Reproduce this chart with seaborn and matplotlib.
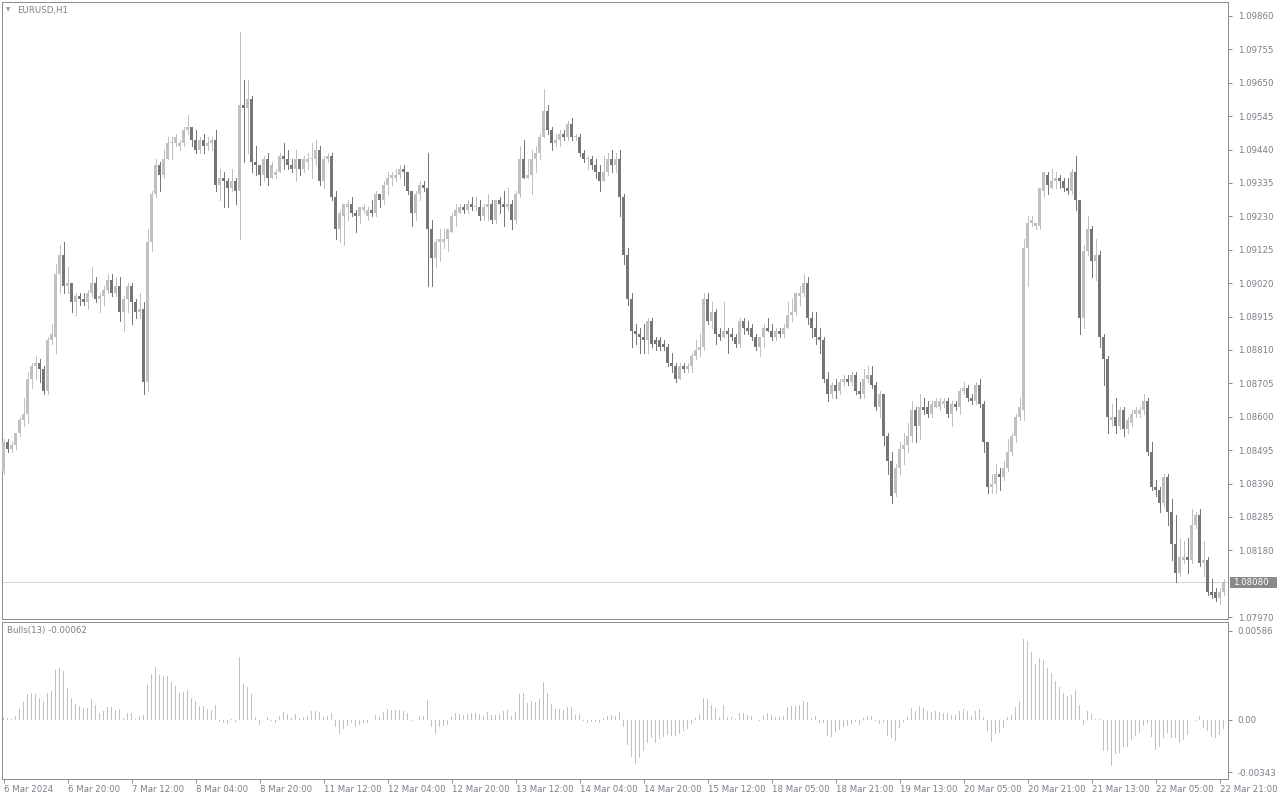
import numpy as np
import pandas as pd
import matplotlib
matplotlib.use("Agg")
import matplotlib.pyplot as plt
from matplotlib.patches import Rectangle
import seaborn as sns

# ---------------- data (EURUSD H1) ----------------
open_ = [
1.0843,1.0852,1.0850,1.0851,1.0855,1.0859,1.0861,1.0872,1.0876,1.0877,
1.0875,1.0868,1.0884,1.0885,1.0905,1.0911,1.0901,1.0902,1.0896,1.0898,
1.0897,1.0896,1.0899,1.0902,1.0897,1.0898,1.0900,1.0903,1.0899,1.0901,
1.0893,1.0897,1.0901,1.0896,1.0893,1.0894,1.0871,1.0915,1.0930,1.0939,
1.0936,1.0941,1.0946,1.0946,1.0945,1.0946,1.0950,1.0951,1.0947,1.0944,
1.0947,1.0945,1.0946,1.0947,1.0933,1.0935,1.0934,1.0932,1.0934,1.0931,
1.0958,1.0957,1.0960,1.0940,1.0939,1.0936,1.0941,1.0935,1.0936,1.0937,
1.0942,1.0941,1.0939,1.0938,1.0941,1.0938,1.0940,1.0941,1.0941,1.0944,
1.0934,1.0941,1.0942,1.0929,1.0919,1.0923,1.0926,1.0927,1.0924,1.0923,
1.0925,1.0923,1.0925,1.0924,1.0930,1.0928,1.0933,1.0935,1.0935,1.0936,
1.0938,1.0937,1.0931,1.0924,1.0930,1.0933,1.0932,1.0919,1.0910,1.0915,
1.0915,1.0916,1.0918,1.0923,1.0924,1.0926,1.0925,1.0927,1.0926,1.0926,
1.0923,1.0926,1.0927,1.0922,1.0928,1.0927,1.0926,1.0927,1.0922,1.0930,
1.0941,1.0935,1.0936,1.0941,1.0943,1.0948,1.0956,1.0950,1.0946,1.0947,
1.0949,1.0948,1.0952,1.0948,1.0948,1.0943,1.0941,1.0941,1.0939,1.0937,
1.0934,1.0937,1.0941,1.0939,1.0941,1.0929,1.0911,1.0897,1.0887,1.0886,
1.0885,1.0884,1.0890,1.0884,1.0884,1.0883,1.0882,1.0877,1.0876,1.0872,
1.0876,1.0875,1.0876,1.0879,1.0881,1.0882,1.0897,1.0890,1.0893,1.0886,
1.0885,1.0887,1.0886,1.0885,1.0883,1.0890,1.0888,1.0888,1.0885,1.0882,
1.0885,1.0888,1.0887,1.0885,1.0887,1.0886,1.0888,1.0892,1.0893,1.0898,
1.0899,1.0902,1.0891,1.0888,1.0885,1.0884,1.0872,1.0867,1.0870,1.0868,
1.0871,1.0872,1.0871,1.0873,1.0868,1.0867,1.0872,1.0873,1.0870,1.0863,
1.0867,1.0854,1.0846,1.0836,1.0844,1.0850,1.0851,1.0854,1.0862,1.0857,
1.0863,1.0863,1.0861,1.0863,1.0863,1.0864,1.0865,1.0861,1.0864,1.0863,
1.0868,1.0869,1.0866,1.0865,1.0870,1.0864,1.0852,1.0838,1.0839,1.0842,
1.0841,1.0844,1.0849,1.0854,1.0860,1.0862,1.0913,1.0921,1.0920,1.0920,
1.0931,1.0936,1.0932,1.0934,1.0935,1.0934,1.0932,1.0931,1.0937,1.0928,
1.0891,1.0912,1.0919,1.0909,1.0911,1.0885,1.0878,1.0859,1.0860,1.0857,
1.0862,1.0856,1.0858,1.0861,1.0861,1.0862,1.0865,1.0849,1.0838,1.0837,
1.0833,1.0841,1.0830,1.0820,1.0811,1.0815,1.0816,1.0815,1.0826,1.0829,
1.0814,1.0815,1.0805,1.0805,1.0803,1.0805]

high = [
1.0853,1.0853,1.0852,1.0855,1.0860,1.0866,1.0874,1.0877,1.0879,1.0878,
1.0876,1.0885,1.0889,1.0908,1.0914,1.0915,1.0907,1.0902,1.0899,1.0899,
1.0899,1.0900,1.0907,1.0904,1.0899,1.0901,1.0905,1.0905,1.0904,1.0904,
1.0898,1.0902,1.0902,1.0897,1.0899,1.0896,1.0919,1.0931,1.0941,1.0940,
1.0944,1.0948,1.0948,1.0949,1.0947,1.0951,1.0955,1.0951,1.0950,1.0948,
1.0949,1.0948,1.0948,1.0950,1.0938,1.0937,1.0935,1.0938,1.0935,1.0981,
1.0966,1.0966,1.0961,1.0945,1.0939,1.0942,1.0943,1.0940,1.0938,1.0943,
1.0946,1.0944,1.0941,1.0944,1.0941,1.0942,1.0943,1.0946,1.0947,1.0945,
1.0942,1.0943,1.0943,1.0931,1.0925,1.0927,1.0928,1.0929,1.0925,1.0926,
1.0927,1.0926,1.0928,1.0931,1.0930,1.0934,1.0937,1.0937,1.0938,1.0939,
1.0939,1.0937,1.0931,1.0931,1.0934,1.0934,1.0943,1.0922,1.0916,1.0919,
1.0919,1.0919,1.0924,1.0927,1.0927,1.0927,1.0928,1.0929,1.0929,1.0928,
1.0927,1.0930,1.0928,1.0928,1.0929,1.0931,1.0932,1.0928,1.0931,1.0945,
1.0947,1.0941,1.0944,1.0945,1.0949,1.0963,1.0958,1.0951,1.0949,1.0950,
1.0950,1.0953,1.0954,1.0949,1.0949,1.0944,1.0942,1.0942,1.0941,1.0939,
1.0942,1.0943,1.0944,1.0943,1.0944,1.0930,1.0913,1.0899,1.0889,1.0888,
1.0889,1.0891,1.0891,1.0885,1.0885,1.0884,1.0883,1.0880,1.0877,1.0877,
1.0877,1.0877,1.0880,1.0884,1.0886,1.0899,1.0899,1.0896,1.0894,1.0888,
1.0896,1.0888,1.0888,1.0886,1.0891,1.0891,1.0890,1.0889,1.0886,1.0885,
1.0889,1.0891,1.0889,1.0888,1.0888,1.0889,1.0896,1.0897,1.0899,1.0901,
1.0905,1.0904,1.0893,1.0893,1.0888,1.0885,1.0874,1.0871,1.0872,1.0872,
1.0873,1.0873,1.0874,1.0874,1.0871,1.0875,1.0876,1.0876,1.0871,1.0868,
1.0867,1.0855,1.0849,1.0845,1.0852,1.0855,1.0858,1.0865,1.0863,1.0867,
1.0866,1.0865,1.0865,1.0866,1.0866,1.0866,1.0866,1.0865,1.0865,1.0869,
1.0871,1.0870,1.0867,1.0871,1.0872,1.0865,1.0852,1.0842,1.0845,1.0844,
1.0846,1.0853,1.0855,1.0861,1.0866,1.0916,1.0923,1.0923,1.0921,1.0932,
1.0937,1.0937,1.0938,1.0937,1.0936,1.0935,1.0935,1.0938,1.0942,1.0928,
1.0914,1.0923,1.0920,1.0916,1.0912,1.0886,1.0879,1.0864,1.0866,1.0863,
1.0863,1.0860,1.0862,1.0863,1.0863,1.0867,1.0866,1.0852,1.0840,1.0838,
1.0842,1.0842,1.0834,1.0829,1.0822,1.0821,1.0822,1.0831,1.0830,1.0831,
1.0821,1.0816,1.0809,1.0806,1.0806,1.0809]

low = [
1.0842,1.0849,1.0849,1.0850,1.0854,1.0857,1.0858,1.0869,1.0872,1.0871,
1.0867,1.0867,1.0883,1.0880,1.0899,1.0899,1.0899,1.0893,1.0892,1.0895,
1.0895,1.0894,1.0898,1.0896,1.0893,1.0895,1.0899,1.0898,1.0898,1.0890,
1.0887,1.0893,1.0889,1.0891,1.0891,1.0867,1.0868,1.0912,1.0929,1.0931,
1.0935,1.0941,1.0941,1.0945,1.0944,1.0945,1.0949,1.0945,1.0943,1.0943,
1.0943,1.0944,1.0944,1.0931,1.0928,1.0926,1.0926,1.0931,1.0927,1.0916,
1.0940,1.0943,1.0937,1.0936,1.0933,1.0934,1.0933,1.0935,1.0935,1.0937,
1.0938,1.0938,1.0937,1.0934,1.0936,1.0937,1.0938,1.0935,1.0939,1.0933,
1.0932,1.0940,1.0928,1.0916,1.0915,1.0914,1.0922,1.0923,1.0918,1.0921,
1.0924,1.0922,1.0923,1.0923,1.0926,1.0927,1.0930,1.0933,1.0934,1.0935,
1.0933,1.0930,1.0920,1.0922,1.0928,1.0931,1.0901,1.0901,1.0907,1.0909,
1.0913,1.0912,1.0918,1.0920,1.0924,1.0924,1.0924,1.0925,1.0925,1.0922,
1.0922,1.0922,1.0921,1.0921,1.0924,1.0920,1.0925,1.0919,1.0921,1.0929,
1.0935,1.0935,1.0930,1.0937,1.0941,1.0948,1.0949,1.0944,1.0945,1.0945,
1.0947,1.0947,1.0947,1.0947,1.0942,1.0940,1.0938,1.0938,1.0935,1.0931,
1.0934,1.0936,1.0937,1.0937,1.0923,1.0908,1.0895,1.0882,1.0883,1.0880,
1.0880,1.0880,1.0882,1.0881,1.0881,1.0881,1.0876,1.0874,1.0871,1.0872,
1.0874,1.0874,1.0874,1.0878,1.0879,1.0881,1.0889,1.0888,1.0883,1.0884,
1.0885,1.0880,1.0884,1.0882,1.0882,1.0886,1.0886,1.0884,1.0881,1.0879,
1.0882,1.0887,1.0884,1.0884,1.0885,1.0885,1.0888,1.0890,1.0892,1.0895,
1.0898,1.0889,1.0885,1.0883,1.0880,1.0871,1.0865,1.0866,1.0866,1.0867,
1.0870,1.0870,1.0870,1.0867,1.0866,1.0866,1.0871,1.0869,1.0862,1.0860,
1.0851,1.0842,1.0833,1.0835,1.0842,1.0845,1.0849,1.0852,1.0852,1.0853,
1.0861,1.0860,1.0860,1.0863,1.0862,1.0863,1.0860,1.0857,1.0862,1.0861,
1.0867,1.0865,1.0864,1.0864,1.0863,1.0849,1.0836,1.0836,1.0836,1.0837,
1.0840,1.0843,1.0848,1.0852,1.0859,1.0859,1.0901,1.0920,1.0919,1.0919,
1.0929,1.0930,1.0932,1.0932,1.0932,1.0931,1.0930,1.0930,1.0925,1.0886,
1.0888,1.0911,1.0904,1.0903,1.0882,1.0870,1.0855,1.0857,1.0855,1.0856,
1.0854,1.0855,1.0857,1.0860,1.0860,1.0861,1.0848,1.0837,1.0835,1.0830,
1.0832,1.0826,1.0815,1.0808,1.0810,1.0814,1.0811,1.0814,1.0825,1.0813,
1.0810,1.0804,1.0803,1.0802,1.0801,1.0804]

close = [
1.0852,1.0850,1.0851,1.0855,1.0859,1.0861,1.0872,1.0876,1.0877,1.0875,
1.0868,1.0884,1.0886,1.0905,1.0911,1.0901,1.0902,1.0896,1.0898,1.0897,
1.0896,1.0899,1.0902,1.0897,1.0898,1.0900,1.0903,1.0899,1.0901,1.0893,
1.0897,1.0901,1.0896,1.0893,1.0894,1.0871,1.0915,1.0930,1.0939,1.0936,
1.0941,1.0946,1.0946,1.0948,1.0946,1.0950,1.0951,1.0947,1.0944,1.0947,
1.0945,1.0946,1.0947,1.0933,1.0935,1.0934,1.0932,1.0934,1.0931,1.0958,
1.0957,1.0960,1.0940,1.0939,1.0936,1.0941,1.0935,1.0939,1.0937,1.0942,
1.0941,1.0939,1.0938,1.0941,1.0938,1.0941,1.0941,1.0941,1.0944,1.0934,
1.0941,1.0942,1.0929,1.0919,1.0924,1.0927,1.0927,1.0924,1.0923,1.0926,
1.0926,1.0925,1.0924,1.0930,1.0928,1.0933,1.0935,1.0936,1.0936,1.0938,
1.0937,1.0931,1.0924,1.0930,1.0933,1.0932,1.0919,1.0910,1.0915,1.0916,
1.0916,1.0919,1.0923,1.0925,1.0926,1.0925,1.0927,1.0926,1.0926,1.0923,
1.0926,1.0927,1.0922,1.0928,1.0927,1.0926,1.0927,1.0922,1.0930,1.0941,
1.0935,1.0936,1.0941,1.0943,1.0948,1.0956,1.0950,1.0946,1.0947,1.0949,
1.0948,1.0952,1.0948,1.0948,1.0943,1.0941,1.0941,1.0939,1.0937,1.0934,
1.0937,1.0941,1.0939,1.0941,1.0929,1.0911,1.0897,1.0887,1.0886,1.0885,
1.0884,1.0890,1.0883,1.0883,1.0882,1.0882,1.0877,1.0876,1.0872,1.0876,
1.0875,1.0876,1.0879,1.0881,1.0882,1.0897,1.0890,1.0893,1.0886,1.0885,
1.0887,1.0886,1.0885,1.0883,1.0890,1.0888,1.0887,1.0885,1.0882,1.0885,
1.0888,1.0887,1.0885,1.0887,1.0886,1.0888,1.0892,1.0893,1.0899,1.0899,
1.0902,1.0891,1.0888,1.0885,1.0884,1.0872,1.0867,1.0870,1.0868,1.0871,
1.0872,1.0871,1.0873,1.0868,1.0867,1.0872,1.0873,1.0870,1.0863,1.0867,
1.0854,1.0846,1.0835,1.0844,1.0850,1.0851,1.0854,1.0862,1.0857,1.0863,
1.0862,1.0861,1.0864,1.0865,1.0865,1.0865,1.0861,1.0864,1.0863,1.0868,
1.0869,1.0866,1.0865,1.0870,1.0864,1.0852,1.0838,1.0839,1.0842,1.0841,
1.0844,1.0849,1.0854,1.0860,1.0863,1.0913,1.0921,1.0922,1.0921,1.0932,
1.0937,1.0933,1.0934,1.0935,1.0934,1.0932,1.0931,1.0937,1.0928,1.0891,
1.0912,1.0919,1.0909,1.0911,1.0885,1.0878,1.0860,1.0860,1.0857,1.0862,
1.0856,1.0859,1.0861,1.0862,1.0862,1.0865,1.0849,1.0838,1.0837,1.0833,
1.0841,1.0830,1.0820,1.0811,1.0816,1.0816,1.0815,1.0826,1.0829,1.0814,
1.0815,1.0805,1.0804,1.0803,1.0805,1.0808]

price_ticks = [1.09860, 1.09755, 1.09650, 1.09545, 1.09440, 1.09335, 1.09230,
               1.09125, 1.09020, 1.08915, 1.08810, 1.08705, 1.08600, 1.08495,
               1.08390, 1.08285, 1.08180, 1.07970]
last_price = 1.08080
bulls_period = 13
bulls_ticks = [0.00586, 0.0, -0.00343]
bulls_tick_labels = ["0.00586", "0.00", "-0.00343"]
bulls_last_label = "-0.00062"
date_pos = [0, 16, 32, 48, 64, 80, 96, 112, 128, 144, 160, 176, 192, 208,
            224, 240, 256, 272, 288, 304]
date_labels = ["6 Mar 2024", "6 Mar 20:00", "7 Mar 12:00", "8 Mar 04:00",
               "8 Mar 20:00", "11 Mar 12:00", "12 Mar 04:00", "12 Mar 20:00",
               "13 Mar 12:00", "14 Mar 04:00", "14 Mar 20:00", "15 Mar 12:00",
               "18 Mar 05:00", "18 Mar 21:00", "19 Mar 13:00", "20 Mar 05:00",
               "20 Mar 21:00", "21 Mar 13:00", "22 Mar 05:00", "22 Mar 21:00"]
symbol_label = "EURUSD,H1"

# ---------------- build frame ----------------
df = pd.DataFrame({"open": open_, "high": high, "low": low, "close": close})
df["idx"] = np.arange(len(df))
df["bulls"] = df["high"] - df["close"].ewm(span=bulls_period, adjust=False).mean()

# ---------------- style ----------------
sns.set_theme(style="white")
plt.rcParams["font.family"] = ["DejaVu Sans"]

W, H = 1280, 800
BULL = "#c0c0c0"
BEAR = "#767676"
FRAME = "#8e8e8e"
TXT = "#7a7f87"
FS = 6.2
LW = 0.72  # 1 px

fig = plt.figure(figsize=(W / 100, H / 100), dpi=100)
fig.patch.set_facecolor("white")

def fx(px):
    return px / W

def fy(py):
    return 1 - py / H

ax = fig.add_axes([fx(2), fy(619), fx(1228) - fx(2), fy(2) - fy(619)])
ax2 = fig.add_axes([fx(2), fy(779), fx(1228) - fx(2), fy(622) - fy(779)])

x_lo, x_hi = -0.375, 306.1
y_lo, y_hi = 1.07964, 1.09904
upp = (y_hi - y_lo) / 617.0  # price per pixel

# ---------------- candles ----------------
up = df["close"] >= df["open"]
colors = np.where(up, BULL, BEAR)
ax.vlines(df["idx"], df["low"], df["high"], colors=colors, linewidth=LW,
          antialiased=False, zorder=2)
body_bottom = np.minimum(df["open"], df["close"])
body_h = np.maximum((df["close"] - df["open"]).abs(), upp)
ax.bar(df["idx"], body_h, bottom=body_bottom, width=0.78, color=colors,
       linewidth=0, antialiased=False, zorder=3)

ax.axhline(last_price, color="#d6d6d6", linewidth=LW, zorder=1)

ax.set_xlim(x_lo, x_hi)
ax.set_ylim(y_lo, y_hi)
ax.set_xticks([])
ax.yaxis.tick_right()
ax.set_yticks(price_ticks, [f"{t:.5f}" for t in price_ticks])
ax.tick_params(axis="y", length=3, width=LW, color=FRAME, pad=4,
               labelsize=FS, labelcolor=TXT, right=True, left=False)
for s in ax.spines.values():
    s.set_color(FRAME)
    s.set_linewidth(LW)

# current price marker box
ytr = ax.get_yaxis_transform()
ax.add_patch(Rectangle((1.0 + 1.5 / 1226, last_price - 5.5 * upp), 47 / 1226,
                       11 * upp, transform=ytr, facecolor="#8a8a8a",
                       edgecolor="none", clip_on=False, zorder=5))
ax.text(1.0 + 5 / 1226, last_price, f"{last_price:.5f}", transform=ytr,
        ha="left", va="center", color="white", fontsize=FS, clip_on=False,
        zorder=6)

# ---------------- Bulls Power ----------------
sns.barplot(x=df["idx"], y=df["bulls"], native_scale=True, width=0.25,
            color=BULL, saturation=1, errorbar=None, ax=ax2, linewidth=0,
            antialiased=False)
ax2.set_xlabel("")
ax2.set_ylabel("")
b_hi = bulls_ticks[0] + 9 * (bulls_ticks[0] - bulls_ticks[2]) / 141
b_lo = bulls_ticks[2] - 7 * (bulls_ticks[0] - bulls_ticks[2]) / 141
ax2.set_xlim(x_lo, x_hi)
ax2.set_ylim(b_lo, b_hi)
ax2.yaxis.tick_right()
ax2.set_yticks(bulls_ticks, bulls_tick_labels)
ax2.tick_params(axis="y", length=3, width=LW, color=FRAME, pad=4,
                labelsize=FS, labelcolor=TXT, right=True, left=False)
ax2.set_xticks(date_pos, date_labels)
ax2.tick_params(axis="x", length=3, width=LW, color=FRAME, pad=1,
                labelsize=FS, labelcolor=TXT, bottom=True)
for lab in ax2.get_xticklabels():
    lab.set_ha("left")
for s in ax2.spines.values():
    s.set_color(FRAME)
    s.set_linewidth(LW)

# ---------------- captions ----------------
fig.text(fx(6), fy(10), "\u25BC", fontsize=4, color="#9a9a9a",
         ha="left", va="center")
fig.text(fx(17), fy(10), symbol_label, fontsize=FS, color=TXT,
         ha="left", va="center")
fig.text(fx(7), fy(631), f"Bulls({bulls_period}) {bulls_last_label}",
         fontsize=FS, color=TXT, ha="left", va="center")

fig.savefig("out.png", dpi=100)
